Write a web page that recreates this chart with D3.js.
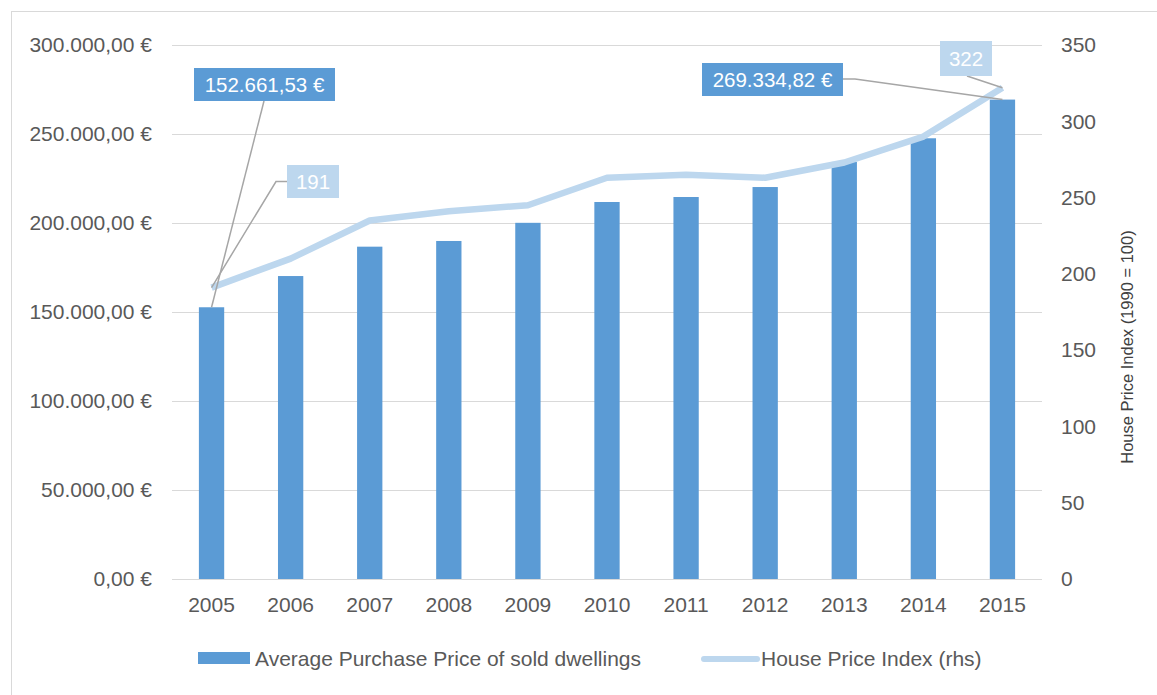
<!DOCTYPE html>
<html>
<head>
<meta charset="utf-8">
<script src="https://cdn.jsdelivr.net/npm/d3@7"></script>
<style>
  html, body { margin: 0; padding: 0; background: #fff; }
  svg { display: block; font-family: "Liberation Sans", Arial, sans-serif; }
</style>
</head>
<body>
<svg id="chart" width="1157" height="695"></svg>
<script>
// Years on the category axis
const years = ["2005", "2006", "2007", "2008", "2009", "2010", "2011", "2012", "2013", "2014", "2015"];
// Average purchase price of sold dwellings (EUR)
const avgPrice = [152661.53, 170200, 186700, 189900, 200100, 211800, 214600, 220200, 234300, 247600, 269334.82];
// House price index, 1990 = 100
const hpi = [191, 210, 235, 241, 245, 263, 265, 263, 273, 290, 322];
// Axis ticks
const leftTicks = [0, 50000, 100000, 150000, 200000, 250000, 300000];
const rightTicks = [0, 50, 100, 150, 200, 250, 300, 350];
// Legend entries
const seriesNames = ["Average Purchase Price of sold dwellings", "House Price Index (rhs)"];
const rightTitle = "House Price Index (1990 = 100)";

const barColor = "#5b9bd5";
const lineColor = "#bdd7ee";
const textColor = "#595959";
const gridColor = "#d9d9d9";
const leaderColor = "#a6a6a6";
const fontSize = "21px";

const svg = d3.select("#chart");

// Outer chart frame
svg.append("rect")
  .attr("x", 11.5).attr("y", 11.5)
  .attr("width", 1160).attr("height", 700)
  .attr("fill", "none").attr("stroke", gridColor).attr("stroke-width", 1);

const plot = { left: 172, right: 1042, top: 45, bottom: 579 };

const x = d3.scaleBand().domain(years).range([plot.left, plot.right]).paddingInner(0.68).paddingOuter(0.34);
const yL = d3.scaleLinear().domain([0, 300000]).range([plot.bottom, plot.top]);
const yR = d3.scaleLinear().domain([0, 350]).range([plot.bottom, plot.top]);
const cx = d => x(d) + x.bandwidth() / 2;

// Euro formatting: 300.000,00 €
const euro = d3.formatLocale({ decimal: ",", thousands: ".", grouping: [3], currency: ["", " €"] }).format("$,.2f");

// Gridlines
svg.append("g").selectAll("line").data(leftTicks).join("line")
  .attr("x1", plot.left).attr("x2", plot.right)
  .attr("y1", d => Math.round(yL(d)) + 0.5).attr("y2", d => Math.round(yL(d)) + 0.5)
  .attr("stroke", gridColor).attr("stroke-width", 1);

function styleAxisText(g) {
  g.select(".domain").remove();
  g.selectAll("text").attr("fill", textColor).attr("font-size", fontSize)
    .attr("font-family", "Liberation Sans, Arial, sans-serif");
}

// Left axis
svg.append("g")
  .attr("transform", `translate(${plot.left},0)`)
  .call(d3.axisLeft(yL).tickValues(leftTicks).tickFormat(euro).tickSize(0).tickPadding(20))
  .call(styleAxisText);

// Right axis
svg.append("g")
  .attr("transform", `translate(${plot.right},0)`)
  .call(d3.axisRight(yR).tickValues(rightTicks).tickFormat(d3.format("d")).tickSize(0).tickPadding(19))
  .call(styleAxisText);

// Bottom axis
svg.append("g")
  .attr("transform", `translate(0,${plot.bottom})`)
  .call(d3.axisBottom(x).tickSize(0).tickPadding(18))
  .call(styleAxisText);

// Right axis title
svg.append("text")
  .attr("transform", `translate(1133,347) rotate(-90)`)
  .attr("text-anchor", "middle")
  .attr("fill", "#404040").attr("font-size", "16.5px")
  .text(rightTitle);

// Bars
svg.append("g").selectAll("rect").data(years).join("rect")
  .attr("x", d => x(d)).attr("width", x.bandwidth())
  .attr("y", (d, i) => yL(avgPrice[i]))
  .attr("height", (d, i) => plot.bottom - yL(avgPrice[i]))
  .attr("fill", barColor);

// Index line
const line = d3.line().x(d => cx(d.year)).y(d => yR(d.v));
svg.append("path")
  .datum(years.map((y, i) => ({ year: y, v: hpi[i] })))
  .attr("d", line)
  .attr("fill", "none").attr("stroke", lineColor).attr("stroke-width", 6.5)
  .attr("stroke-linejoin", "round");

// Data callouts for first and last values
const first = years[0], last = years[years.length - 1];
const callouts = [
  { text: euro(avgPrice[0]), fill: barColor, box: [194, 68, 141, 33],
    path: [[264, 101], [cx(first), yL(avgPrice[0])]] },
  { text: String(hpi[0]), fill: lineColor, box: [287, 165, 52, 33],
    path: [[287, 181.5], [276, 181.5], [cx(first), yR(hpi[0])]] },
  { text: euro(avgPrice[avgPrice.length - 1]), fill: barColor, box: [702, 63, 141, 33],
    path: [[843, 79], [855, 79], [cx(last), yL(avgPrice[avgPrice.length - 1])]] },
  { text: String(hpi[hpi.length - 1]), fill: lineColor, box: [940, 41, 52, 35],
    path: [[967, 76], [cx(last), yR(hpi[hpi.length - 1])]] }
];

const cg = svg.append("g");
callouts.forEach(c => {
  cg.append("path")
    .attr("d", d3.line()(c.path))
    .attr("fill", "none").attr("stroke", leaderColor).attr("stroke-width", 1.5);
  cg.append("rect")
    .attr("x", c.box[0]).attr("y", c.box[1]).attr("width", c.box[2]).attr("height", c.box[3])
    .attr("fill", c.fill);
  cg.append("text")
    .attr("x", c.box[0] + c.box[2] / 2).attr("y", c.box[1] + c.box[3] / 2)
    .attr("dy", "0.36em").attr("text-anchor", "middle")
    .attr("fill", "#fff").attr("font-size", "20.5px")
    .text(c.text);
});

// Legend
const lg = svg.append("g");
lg.append("rect").attr("x", 198).attr("y", 652).attr("width", 52).attr("height", 12).attr("fill", barColor);
lg.append("text").attr("x", 255).attr("y", 666).attr("fill", textColor).attr("font-size", fontSize).text(seriesNames[0]);
lg.append("line").attr("x1", 704).attr("x2", 757).attr("y1", 659).attr("y2", 659)
  .attr("stroke", lineColor).attr("stroke-width", 6).attr("stroke-linecap", "round");
lg.append("text").attr("x", 761).attr("y", 666).attr("fill", textColor).attr("font-size", fontSize).text(seriesNames[1]);
</script>
</body>
</html>
